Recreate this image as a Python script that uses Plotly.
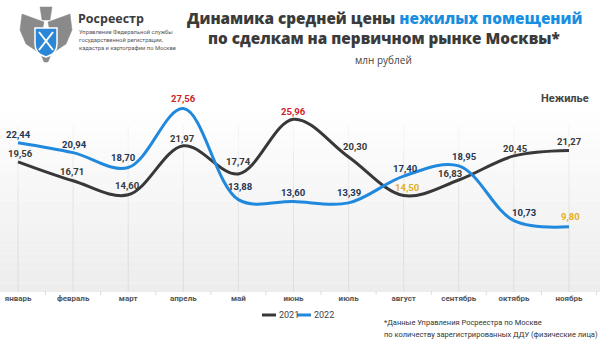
import plotly.graph_objects as go

months = ["январь", "февраль", "март", "апрель", "май", "июнь", "июль",
          "август", "сентябрь", "октябрь", "ноябрь"]
series_names = ["2021", "2022"]
v2021 = [19.56, 16.71, 14.60, 21.97, 17.74, 25.96, 20.30, 14.50, 16.83, 20.45, 21.27]
v2022 = [22.44, 20.94, 18.70, 27.56, 13.88, 13.60, 13.39, 17.40, 18.95, 10.73, 9.80]

# label pixel offsets (style)
off2021 = [(2, -8), (-1, -9), (-1, -9), (-1, -7), (0, -12), (0, -8), (7, -10), (4, -8), (-9, -6), (2, -7), (1, -9)]
off2022 = [(0, -8), (1, -8), (-5, -10), (0, -10), (2, -13), (0, -9), (0, -10), (2, -8), (6, -9), (10, -8), (2, -10)]

W, H = 600, 340
MT, MB = 95, 48
PH = H - MT - MB
X0, X1 = -0.327, 10.563
YMAX = 29.6

C21 = "#383838"
C22 = "#2189dd"
LBL21 = "#3a3a3a"
LBL22 = "#1f3656"
RED = "#d1222a"
YEL = "#e3b024"

def py(p):
    return (H - MB - p) / PH

def pxx(p):
    return p / W

fig = go.Figure()
fig.add_trace(go.Scatter(x=list(range(len(months))), y=v2021, mode="lines", name=series_names[0],
                         line=dict(color=C21, width=3, shape="spline", smoothing=1.0),
                         hoverinfo="skip", showlegend=False))
fig.add_trace(go.Scatter(x=list(range(len(months))), y=v2022, mode="lines", name=series_names[1],
                         line=dict(color=C22, width=3, shape="spline", smoothing=1.0),
                         hoverinfo="skip", showlegend=False))

shapes = []
# background gradient
n = 24
top, bot = 110, 291
for i in range(n):
    y0 = top + (bot - top) * i / n
    y1 = top + (bot - top) * (i + 1) / n
    c = int(255 - (255 - 237) * (i + 0.5) / n)
    shapes.append(dict(type="rect", xref="paper", yref="paper", x0=0, x1=1, y0=py(y1), y1=py(y0),
                       fillcolor=f"rgb({c},{c},{c})", line=dict(width=0), layer="below"))
# vertical grid lines (fading upward)
segs = [(0, 10, "#dedede"), (10, 16, "#e4e4e4"), (16, 21, "#ebebeb"), (21, 25, "#f4f4f4")]
for i in range(len(months)):
    for a, b, col in segs:
        shapes.append(dict(type="line", xref="x", yref="y", x0=i, x1=i, y0=a, y1=b,
                           line=dict(color=col, width=1), layer="below"))
# baseline
shapes.append(dict(type="line", xref="paper", yref="y", x0=0, x1=1, y0=0, y1=0,
                   line=dict(color="#d9d9d9", width=1), layer="below"))
# boundary ticks
for i in range(len(months)):
    shapes.append(dict(type="line", xref="x", yref="paper", x0=i + 0.5, x1=i + 0.5,
                       y0=py(291), y1=py(295), line=dict(color="#dcdcdc", width=1)))

# logo (simplified emblem)
g = "#8a8a8a"
shapes.append(dict(type="path", xref="paper", yref="paper",
                   path=f"M {pxx(44)},{py(22)} L {pxx(22)},{py(14)} L {pxx(20)},{py(30)} L {pxx(26)},{py(44)} L {pxx(38)},{py(52)} Z",
                   fillcolor=g, line=dict(color=g, width=0.5)))
shapes.append(dict(type="path", xref="paper", yref="paper",
                   path=f"M {pxx(48)},{py(22)} L {pxx(70)},{py(14)} L {pxx(72)},{py(30)} L {pxx(66)},{py(44)} L {pxx(54)},{py(52)} Z",
                   fillcolor=g, line=dict(color=g, width=0.5)))
shapes.append(dict(type="path", xref="paper", yref="paper",
                   path=f"M {pxx(40)},{py(7)} L {pxx(52)},{py(7)} L {pxx(50)},{py(20)} L {pxx(42)},{py(20)} Z",
                   fillcolor=g, line=dict(color=g, width=0.5)))
shapes.append(dict(type="path", xref="paper", yref="paper",
                   path=f"M {pxx(40)},{py(52)} L {pxx(52)},{py(52)} L {pxx(48)},{py(62)} L {pxx(44)},{py(62)} Z",
                   fillcolor=g, line=dict(color=g, width=0.5)))
shapes.append(dict(type="path", xref="paper", yref="paper",
                   path=f"M {pxx(35)},{py(28)} L {pxx(57)},{py(28)} L {pxx(57)},{py(44)} Q {pxx(57)},{py(54)} {pxx(46)},{py(57)} Q {pxx(35)},{py(54)} {pxx(35)},{py(44)} Z",
                   fillcolor="#2a86d6", line=dict(color="white", width=1.5)))
shapes.append(dict(type="line", xref="paper", yref="paper", x0=pxx(39), y0=py(32), x1=pxx(53), y1=py(50),
                   line=dict(color="white", width=2)))
shapes.append(dict(type="line", xref="paper", yref="paper", x0=pxx(53), y0=py(32), x1=pxx(39), y1=py(50),
                   line=dict(color="white", width=2)))

ann = []
def lbl(vals, offs, base):
    mx, mn = max(vals), min(vals)
    for i, v in enumerate(vals):
        col = RED if v == mx else (YEL if v == mn else base)
        ann.append(dict(x=i, y=v, xref="x", yref="y", text=f"{v:.2f}".replace(".", ","),
                        showarrow=False, xshift=offs[i][0], yshift=-offs[i][1],
                        xanchor="center", yanchor="middle",
                        font=dict(family="Roboto", size=9.5, color=col, weight="bold")))
lbl(v2021, off2021, LBL21)
lbl(v2022, off2022, LBL22)

def txt(x, y, text, font, xanchor="center"):
    ann.append(dict(xref="paper", yref="paper", x=pxx(x), y=py(y), text=text, font=font,
                    showarrow=False, xanchor=xanchor, yanchor="middle"))

# compact legend
for (lx, col), name in zip([(262, C21), (297, C22)], series_names):
    shapes.append(dict(type="line", xref="paper", yref="paper", x0=pxx(lx), x1=pxx(lx + 14),
                       y0=py(315), y1=py(315), line=dict(color=col, width=3)))
    txt(lx + 15, 315, name, dict(family="Roboto", size=9, color="#444444"), "left")

# titles
TF = dict(family="Open Sans", size=15.3, color="#3b3b3b", weight=800)
txt(384, 18, "Динамика средней цены <span style='color:#1a8fe0'>нежилых помещений</span>", TF)
txt(384, 38, "по сделкам на первичном рынке Москвы*", TF)
txt(383, 60, "млн рублей", dict(family="Open Sans", size=10, color="#444444"))
txt(591, 98, "Нежилье", dict(family="Roboto", size=11, color="#444444", weight="bold"), "right")
# logo texts
txt(76, 19, "Росреестр", dict(family="Open Sans", size=12.5, color="#3b3b3b", weight="bold"), "left")
for k, t in enumerate(["Управление Федеральной службы", "государственной регистрации,",
                       "кадастра и картографии по Москве"]):
    txt(77, 32 + 8 * k, t, dict(family="Roboto", size=5.8, color="#555555"), "left")
# footnote
for k, t in enumerate(["*Данные Управления Росреестра по Москве",
                       "по количеству зарегистрированных ДДУ (физические лица)"]):
    txt(382, 322 + 12 * k, t, dict(family="Roboto", size=7.5, color="#333333"), "left")

fig.update_layout(
    width=W, height=H, margin=dict(l=0, r=0, t=MT, b=MB),
    paper_bgcolor="white", plot_bgcolor="rgba(0,0,0,0)",
    shapes=shapes, annotations=ann, showlegend=False,
    xaxis=dict(range=[X0, X1], showgrid=False, zeroline=False, showline=False,
               tickvals=list(range(len(months))), ticktext=months, ticks="",
               tickfont=dict(family="Roboto", size=8, color="#555555", weight="bold")),
    yaxis=dict(range=[0, YMAX], visible=False),
)
fig.write_html("out.html")
